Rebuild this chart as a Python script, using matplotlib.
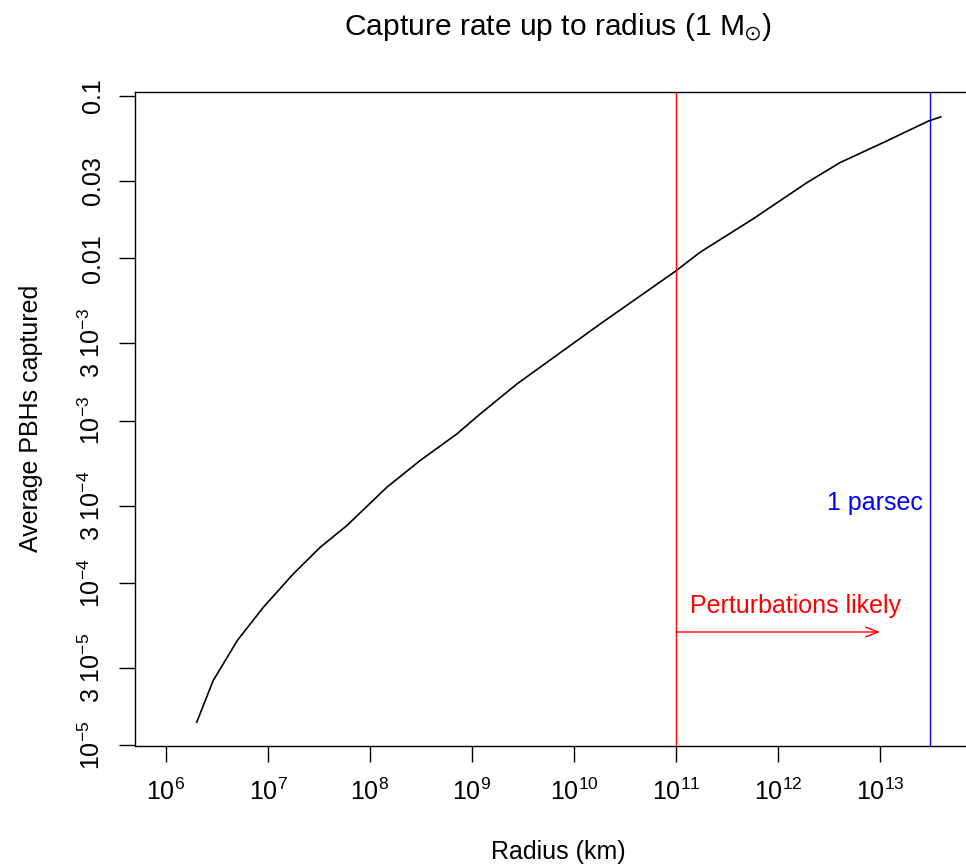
import matplotlib
matplotlib.use("Agg")
import matplotlib.pyplot as plt
from matplotlib.ticker import FixedLocator, NullLocator

plt.rcParams['font.family'] = ['Liberation Sans', 'DejaVu Sans']
plt.rcParams['mathtext.fontset'] = 'custom'
plt.rcParams['mathtext.rm'] = 'Liberation Sans'
plt.rcParams['mathtext.it'] = 'Liberation Sans:italic'
plt.rcParams['mathtext.bf'] = 'Liberation Sans:bold'

# ---- data ----
radius_km = [2.0e6, 2.9e6, 5.0e6, 9.0e6, 1.77e7, 3.24e7, 5.92e7, 1.46e8, 3.09e8,
             7.08e8, 1.20e9, 2.74e9, 1.80e10, 1.0e11, 1.72e11, 5.69e11, 1.91e12,
             4.06e12, 1.16e13, 3.0e13, 3.94e13]
pbh_captured = [1.39e-5, 2.51e-5, 4.43e-5, 7.10e-5, 1.14e-4, 1.66e-4, 2.26e-4,
                3.89e-4, 5.68e-4, 8.28e-4, 1.10e-3, 1.68e-3, 3.94e-3, 8.38e-3,
                1.09e-2, 1.75e-2, 2.92e-2, 3.89e-2, 5.28e-2, 7.02e-2, 7.43e-2]

perturbation_radius = 1e11
parsec_km = 3.086e13
arrow_end = 1e13
arrow_y = 5.0e-5
pert_text_x = 1.5e12
pert_text_y = 7.2e-5
parsec_text_y = 3.1e-4

xtick_vals = [1e6, 1e7, 1e8, 1e9, 1e10, 1e11, 1e12, 1e13]
xtick_labels = [r'$\mathregular{10^{%d}}$' % e for e in range(6, 14)]
ytick_vals = [0.1, 0.03, 0.01, 3e-3, 1e-3, 3e-4, 1e-4, 3e-5, 1e-5]
ytick_labels = ['0.1', '0.03', '0.01',
                r'$\mathregular{3\ 10^{-3}}$', r'$\mathregular{10^{-3}}$',
                r'$\mathregular{3\ 10^{-4}}$', r'$\mathregular{10^{-4}}$',
                r'$\mathregular{3\ 10^{-5}}$', r'$\mathregular{10^{-5}}$']

FS = 18

fig = plt.figure(figsize=(9.66, 8.67), dpi=100)
W, H = 966, 867
ax_left, ax_right, ax_top, ax_bottom = 135, 982, 91.7, 745.5
ax = fig.add_axes([ax_left / W, (H - ax_bottom) / H,
                   (ax_right - ax_left) / W, (ax_bottom - ax_top) / H])

ax.plot(radius_km, pbh_captured, color='black', lw=1.2)
ax.axvline(perturbation_radius, color='red', lw=1.0)
ax.axvline(parsec_km, color='blue', lw=1.0)
ax.annotate('', xy=(arrow_end, arrow_y), xytext=(perturbation_radius, arrow_y),
            arrowprops=dict(arrowstyle='->,head_length=0.9,head_width=0.35',
                            color='red', lw=1.0, shrinkA=0, shrinkB=0))
ax.text(pert_text_x, pert_text_y, 'Perturbations likely', color='red',
        fontsize=FS, ha='center', va='center')
ax.annotate('1 parsec', xy=(parsec_km, parsec_text_y), xytext=(-7, 0),
            textcoords='offset pixels', color='blue', fontsize=FS,
            ha='right', va='center')

ax.set_xscale('log')
ax.set_yscale('log')
ax.set_xlim(10 ** 5.696, 1e14)
ax.set_ylim(1e-5, 10 ** -0.9735)

ax.xaxis.set_major_locator(FixedLocator(xtick_vals))
ax.xaxis.set_minor_locator(NullLocator())
ax.set_xticklabels(xtick_labels)
ax.yaxis.set_major_locator(FixedLocator(ytick_vals))
ax.yaxis.set_minor_locator(NullLocator())
ax.set_yticklabels(ytick_labels)

ax.tick_params(axis='both', which='major', length=11.5, width=1.0,
               labelsize=FS, color='black', direction='out')
ax.tick_params(axis='x', pad=12)
ax.tick_params(axis='y', pad=10, labelrotation=90)
for lab in ax.get_yticklabels():
    lab.set_va('center')
    lab.set_ha('right')

for sp in ax.spines.values():
    sp.set_linewidth(1.0)
    sp.set_color('black')

ax.set_xlabel('Radius (km)', fontsize=FS)
ax.xaxis.set_label_coords(0.5, (ax_bottom - 852) / (ax_bottom - ax_top))
ax.xaxis.label.set_va('center')
ax.set_ylabel('Average PBHs captured', fontsize=FS)
ax.yaxis.set_label_coords((31 - ax_left) / (ax_right - ax_left), 0.5)
ax.yaxis.label.set_va('center')
ax.yaxis.label.set_ha('center')

fig.text(558 / W, 1 - 28 / H, r'Capture rate up to radius (1 $\mathregular{M_{\odot}}$)',
         fontsize=FS * 1.2, ha='center', va='center')

fig.savefig('out.png', dpi=100, facecolor='white')
